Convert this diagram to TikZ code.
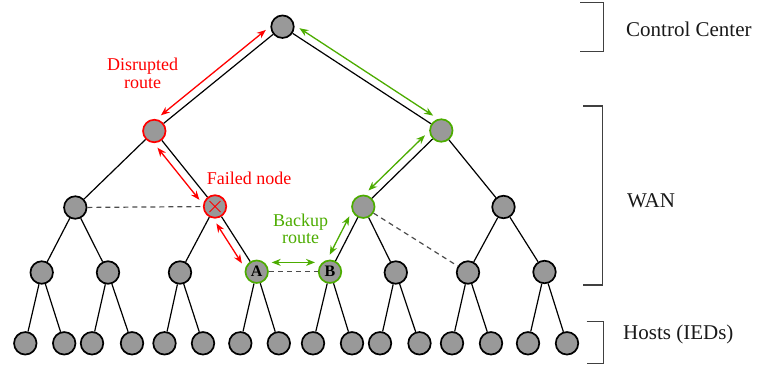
\documentclass[tikz,border=0pt]{standalone}
\usepackage{fontspec}
\setmainfont{Liberation Serif}
\usetikzlibrary{arrows.meta,calc}
\definecolor{nodegray}{HTML}{999999}
\definecolor{alertred}{HTML}{FF0000}
\definecolor{okgreen}{RGB}{76,172,0}
\definecolor{bracketgray}{HTML}{404040}
% arrow drawn parallel to the link between two nodes:
% #1 style, #2 #3 nodes, #4 #5 offset directions at each end
\newcommand\pararrow[5]{%
  \draw[#1] ($(#2)!15pt!(#3)!8pt!#4:(#3)$) -- ($(#3)!15pt!(#2)!8pt!#5:(#2)$);}
\begin{document}
\begin{tikzpicture}[x=1pt,y=-1pt,
  host/.style={circle, draw=black, line width=1.7pt, fill=nodegray,
    minimum size=22.5pt, inner sep=0pt, font=\bfseries\fontsize{16}{16}\selectfont},
  failhost/.style={host, draw=alertred},
  savehost/.style={host, draw=okgreen},
  link/.style={line width=1.2pt, black},
  spare/.style={line width=1.2pt, black!70, dash pattern=on 5pt off 4pt},
  redarr/.style={>={Stealth[length=9pt,width=7pt]}, <->, draw=alertred, line width=1.3pt},
  greenarr/.style={>={Stealth[length=9pt,width=7pt]}, <->, draw=okgreen, line width=1.3pt},
  tier/.style={line width=1.2pt, draw=bracketgray},
  tierlabel/.style={anchor=base west, inner sep=0pt, text=black!90, font=\fontsize{21}{25}\selectfont},
  redlabel/.style={align=center, inner sep=0pt, text=alertred, font=\fontsize{18}{18}\selectfont},
  greenlabel/.style={align=center, inner sep=0pt, text=okgreen, font=\fontsize{18}{17.5}\selectfont}]
\useasboundingbox (0,0) rectangle (782,368);

% control center and WAN routers
\node[host] (root) at (282.5,26.7) {};
\node[failhost] (a) at (154.3,131) {};
\node[savehost] (b) at (441.3,130.5) {};
\node[host] (c) at (75.3,207.5) {};
\node[failhost] (f) at (215,206.5) {};
\node[savehost] (g) at (363.3,206.7) {};
\node[host] (h) at (503.5,207) {};
\node[host] (d1) at (41.7,272.5) {};
\node[host] (d2) at (108,272.5) {};
\node[host] (d3) at (180,272.5) {};
\node[savehost] (A) at (256.7,271.7) {A};
\node[savehost] (B) at (330,271.7) {B};
\node[host] (d6) at (395.8,272.5) {};
\node[host] (d7) at (468,272.5) {};
\node[host] (d8) at (544.5,272) {};

% hosts
\foreach \n/\x in {1/25.3,2/64.2,3/92,4/132,5/164.5,6/203,7/240.3,8/278.8,
                   9/313,10/352,11/380,12/419.5,13/452,14/491,15/528,16/567}
  \node[host] (l\n) at (\x,343.3) {};

% tree links
\draw[link] (root) -- (a);
\draw[link] (root) -- (b);
\draw[link] (a) -- (c);
\draw[link] (a) -- (f);
\draw[link] (b) -- (g);
\draw[link] (b) -- (h);
\draw[link] (c) -- (d1);
\draw[link] (c) -- (d2);
\draw[link] (f) -- (d3);
\draw[link] (f) -- (A);
\draw[link] (g) -- (B);
\draw[link] (g) -- (d6);
\draw[link] (h) -- (d7);
\draw[link] (h) -- (d8);
\foreach \p/\i/\j in {d1/1/2,d2/3/4,d3/5/6,A/7/8,B/9/10,d6/11/12,d7/13/14,d8/15/16}{
  \draw[link] (\p) -- (l\i);
  \draw[link] (\p) -- (l\j);
}

% redundant links
\draw[spare] (c) -- (f);
\draw[spare] (A) -- (B);
\draw[spare] (g) -- (d7);

% failed node mark
\draw[alertred, line width=1pt] ($(f)+(-5.5,-5.5)$) -- ($(f)+(5.5,5.5)$)
  ($(f)+(-5.5,5.5)$) -- ($(f)+(5.5,-5.5)$);

% disrupted route
\pararrow{redarr}{root}{a}{-90}{90}
\pararrow{redarr}{a}{f}{-90}{90}
\pararrow{redarr}{f}{A}{-90}{90}

% backup route
\pararrow{greenarr}{root}{b}{90}{-90}
\pararrow{greenarr}{b}{g}{-90}{90}
\pararrow{greenarr}{g}{B}{-90}{90}
\draw[greenarr, line width=1.4pt] ($(A.center)+(15,-9.3)$) -- ($(B.center)+(-15,-9.3)$);

% route labels
\node[redlabel] (lbldis) at (142.6,73.5) {Disrupted\\route};
\node[redlabel, anchor=base] (lblfail) at (249.2,184.5) {Failed node};
\node[greenlabel] (lblback) at (300.5,228.6) {Backup\\route};

% tier brackets
\draw[tier] (580,2.7) -- (603.3,2.7) -- (603.3,51.7) -- (580,51.7);
\draw[tier] (583,106) -- (602.7,106) -- (602.7,285) -- (583,285);
\draw[tier] (586.7,321.7) -- (603.3,321.7) -- (603.3,363.3) -- (586.7,363.3);
\node[tierlabel] (tcc) at (626,36.5) {Control Center};
\node[tierlabel] (twan) at (627,207.5) {WAN};
\node[tierlabel] (thost) at (623,339.5) {Hosts (IEDs)};
\end{tikzpicture}
\end{document}
